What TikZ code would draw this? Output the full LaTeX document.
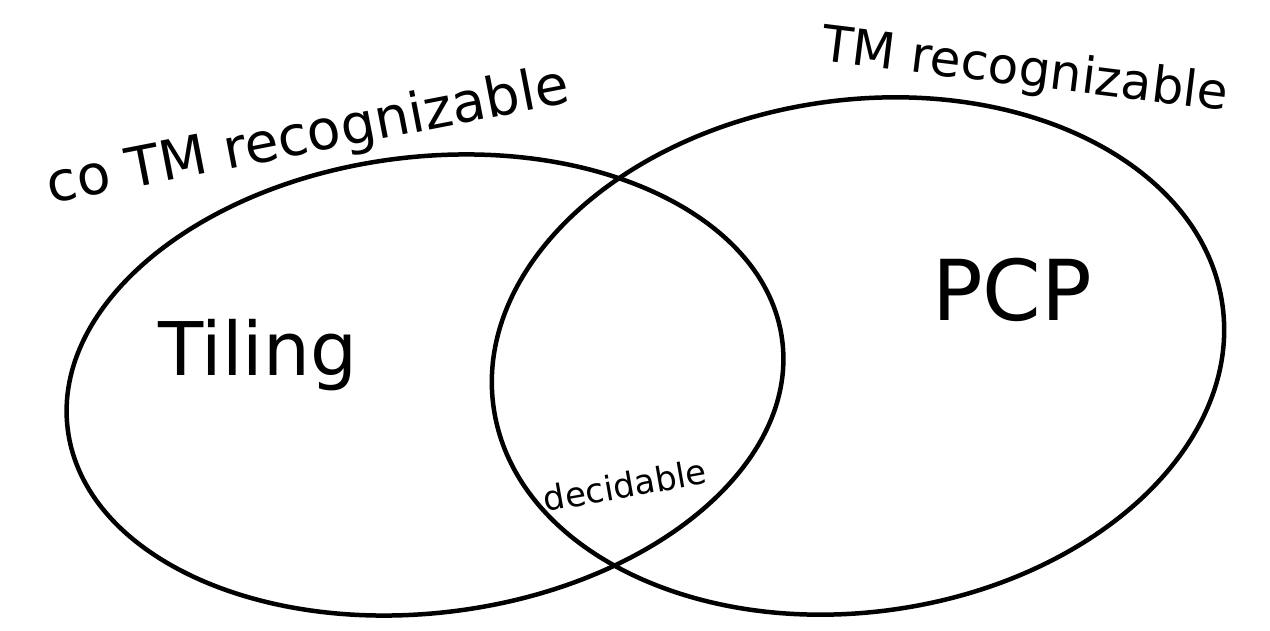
\documentclass[tikz,border=0pt]{standalone}
\usepackage{fontspec}
\setmainfont{DejaVu Sans}
\begin{document}
\begin{tikzpicture}[x=1pt,y=-1pt,
  set/.style={draw=black,line width=4.5pt},
  lbl/.style={font=\fontsize{#1}{#1}\selectfont,inner sep=0pt}]
\useasboundingbox (0,0) rectangle (1270,631);
\draw[set] (425,385) ellipse[x radius=360,y radius=228,rotate=7];
\draw[set] (858,356) ellipse[x radius=368,y radius=256,rotate=8];
\node[lbl=55,rotate=11] (co) at (308,138) {co TM recognizable};
\node[lbl=50,rotate=-7] (tm) at (1025,72) {TM recognizable};
\node[lbl=74] (tiling) at (258,355) {Tiling};
\node[lbl=84] (pcp) at (1012,290) {PCP};
\node[lbl=34,rotate=10] (dec) at (625,485) {decidable};
\end{tikzpicture}
\end{document}
